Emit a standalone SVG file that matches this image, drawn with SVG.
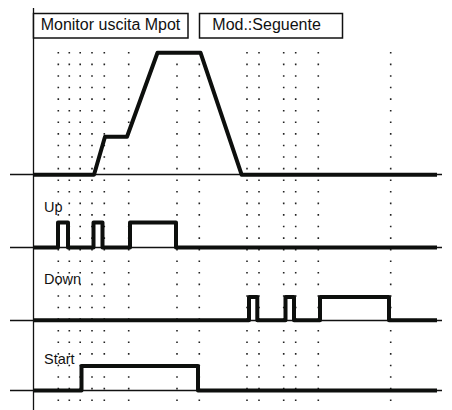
<svg xmlns="http://www.w3.org/2000/svg" width="452" height="410" viewBox="0 0 452 410">
<style>
.grid line{stroke:#222;stroke-width:1.6;stroke-dasharray:1.6 9.98}
.axis{stroke:#111;stroke-width:1.3;fill:none}
.sig{stroke:#0d0f0d;stroke-width:4;fill:none;stroke-linejoin:round}
.box{fill:#fff;stroke:#111;stroke-width:1.5}
.t{font-family:"Liberation Sans",Arial,sans-serif;fill:#111}
</style>
<rect width="452" height="410" fill="#fff"/>
<g class="grid" id="grid">
<line x1="58.3" y1="52" x2="58.3" y2="403"/>
<line x1="69.3" y1="52" x2="69.3" y2="403"/>
<line x1="80.2" y1="52" x2="80.2" y2="403"/>
<line x1="92" y1="52" x2="92" y2="403"/>
<line x1="104.3" y1="52" x2="104.3" y2="403"/>
<line x1="128.7" y1="52" x2="128.7" y2="403"/>
<line x1="177" y1="52" x2="177" y2="403"/>
<line x1="199.3" y1="52" x2="199.3" y2="403"/>
<line x1="247" y1="52" x2="247" y2="403"/>
<line x1="259" y1="52" x2="259" y2="403"/>
<line x1="283.7" y1="52" x2="283.7" y2="403"/>
<line x1="295.7" y1="52" x2="295.7" y2="403"/>
<line x1="318.3" y1="52" x2="318.3" y2="403"/>
<line x1="390.7" y1="52" x2="390.7" y2="403"/>
</g>
<g id="axes">
<line class="axis" x1="33.5" y1="8" x2="33.5" y2="410"/>
<line class="axis" x1="10" y1="174.5" x2="442" y2="174.5"/>
<line class="axis" x1="10" y1="247.5" x2="442" y2="247.5"/>
<line class="axis" x1="10" y1="320.5" x2="442" y2="320.5"/>
<line class="axis" x1="10" y1="390.5" x2="442" y2="390.5"/>
</g>
<g id="title-monitor">
<rect class="box" x="33.5" y="13.5" width="154.5" height="24.5"/>
<text class="t" x="40.7" y="30" font-size="16">Monitor uscita Mpot</text>
</g>
<g id="title-mode">
<rect class="box" x="199.5" y="13.5" width="143" height="24.5"/>
<text class="t" x="212.3" y="30" font-size="16">Mod.:Seguente</text>
</g>
<g id="signals">
<path id="mpot" class="sig" d="M33.5,174.8 H94 L105,136.7 H127 L157.5,52.7 H200.5 L241.7,174.8 H437"/>
<path id="up" class="sig" d="M33.5,247.5 H58 V222.5 H68 V247.5 H93.5 V222.5 H102.5 V247.5 H130 V222.5 H176 V247.5 H437"/>
<path id="down" class="sig" d="M33.5,320.2 H249 V297 H257.3 V320.2 H285.5 V297 H294 V320.2 H320 V297 H389 V320.2 H437"/>
<path id="start" class="sig" d="M33.5,390.5 H81.5 V366 H198 V390.5 H437"/>
</g>
<g id="labels">
<text class="t" x="44" y="211.7" font-size="14.5">Up</text>
<text class="t" x="44" y="283.5" font-size="14.5">Down</text>
<text class="t" x="44" y="364" font-size="14.5">Start</text>
</g>
</svg>
